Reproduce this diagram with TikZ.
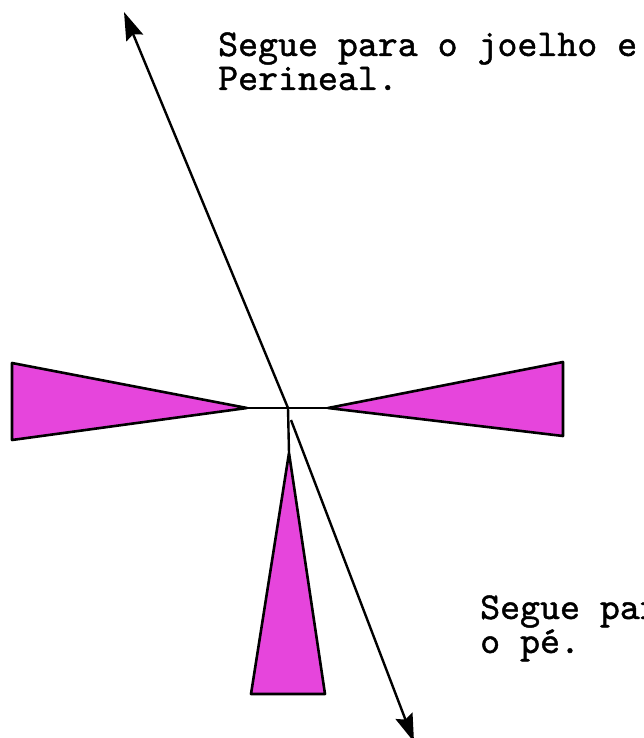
\documentclass[tikz,border=0pt]{standalone}
\usepackage{fontspec}
\newfontfamily\typewriter[Extension=.otf,FakeBold=1.2]{lmmono10-regular}
\usetikzlibrary{arrows.meta}
\definecolor{footMagenta}{HTML}{E645DC}
\tikzset{
  wedge/.style={draw=black,line width=2.6pt,fill=footMagenta,line join=round},
  stem/.style={line width=2.4pt},
  pathline/.style={line width=2.4pt,-{Stealth[length=28pt,width=18pt,inset=4pt]}},
  note/.style={anchor=base west,inner sep=0pt,font=\typewriter\fontsize{38}{40}\selectfont}
}
\begin{document}
\begin{tikzpicture}[x=1pt,y=-1pt]
\useasboundingbox (0,0) rectangle (644,738);
\clip (0,0) rectangle (644,738);
\coordinate (hub) at (288,408);
\coordinate (leftTip) at (247,408);
\coordinate (rightTip) at (328,408);
\coordinate (footTip) at (289,453);
\coordinate (footStart) at (291,420);
\coordinate (kneeEnd) at (124,12);
\coordinate (footEnd) at (414,742);
\draw[wedge] (leftTip) -- (12,363) -- (12,440) -- cycle;
\draw[wedge] (rightTip) -- (563,362) -- (563,436) -- cycle;
\draw[wedge] (footTip) -- (251,694) -- (325,694) -- cycle;
\draw[stem] (leftTip) -- (rightTip);
\draw[stem] (hub) -- (footTip);
\draw[pathline] (hub) -- (kneeEnd);
\draw[pathline] (footStart) -- (footEnd);
\node[note] (kneeA) at (218,56) {Segue para o joelho e};
\node[note] (kneeB) at (218,90) {Perineal.};
\node[note] (footA) at (480,619) {Segue para};
\node[note] (footB) at (480,653) {o pé.};
\end{tikzpicture}
\end{document}
